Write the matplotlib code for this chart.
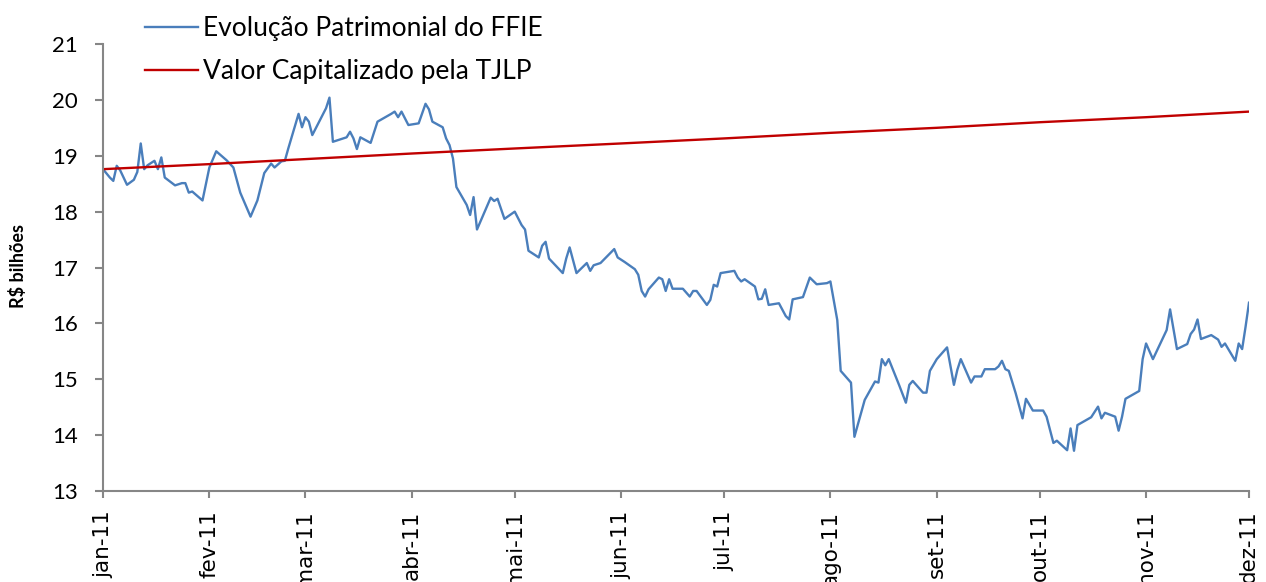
import matplotlib
matplotlib.use("Agg")
import matplotlib.pyplot as plt
import pandas as pd

# =========================
# DADOS
# =========================
datas_ffie = [
    "2011-01-01", "2011-01-03", "2011-01-04", "2011-01-05", "2011-01-06", "2011-01-08", "2011-01-10",
    "2011-01-11", "2011-01-12", "2011-01-13", "2011-01-14", "2011-01-16", "2011-01-17", "2011-01-18",
    "2011-01-19", "2011-01-22", "2011-01-24", "2011-01-25", "2011-01-26", "2011-01-27", "2011-01-30",
    "2011-02-01", "2011-02-03", "2011-02-06", "2011-02-08", "2011-02-10", "2011-02-13", "2011-02-15",
    "2011-02-17", "2011-02-19", "2011-02-20", "2011-02-22", "2011-02-23", "2011-02-24", "2011-02-27",
    "2011-02-28",
    "2011-03-01", "2011-03-02", "2011-03-03", "2011-03-07", "2011-03-08", "2011-03-09", "2011-03-13",
    "2011-03-14", "2011-03-15", "2011-03-16", "2011-03-17", "2011-03-20", "2011-03-22", "2011-03-26",
    "2011-03-27", "2011-03-28", "2011-03-29", "2011-03-31",
    "2011-04-03", "2011-04-05", "2011-04-06", "2011-04-07", "2011-04-10", "2011-04-11", "2011-04-12",
    "2011-04-13", "2011-04-14", "2011-04-17", "2011-04-18", "2011-04-19", "2011-04-20", "2011-04-24",
    "2011-04-25", "2011-04-26", "2011-04-28",
    "2011-05-01", "2011-05-03", "2011-05-04", "2011-05-05", "2011-05-08", "2011-05-09", "2011-05-10",
    "2011-05-11", "2011-05-15", "2011-05-16", "2011-05-17", "2011-05-19", "2011-05-22", "2011-05-23",
    "2011-05-24", "2011-05-26", "2011-05-30", "2011-05-31",
    "2011-06-02", "2011-06-05", "2011-06-06", "2011-06-07", "2011-06-08", "2011-06-09", "2011-06-12",
    "2011-06-13", "2011-06-14", "2011-06-15", "2011-06-16", "2011-06-19", "2011-06-21", "2011-06-22",
    "2011-06-23", "2011-06-26", "2011-06-27", "2011-06-28", "2011-06-29", "2011-06-30",
    "2011-07-04", "2011-07-05", "2011-07-06", "2011-07-07", "2011-07-10", "2011-07-11", "2011-07-12",
    "2011-07-13", "2011-07-14", "2011-07-17", "2011-07-19", "2011-07-20", "2011-07-21", "2011-07-24",
    "2011-07-26", "2011-07-28", "2011-07-31",
    "2011-08-01", "2011-08-03", "2011-08-04", "2011-08-07", "2011-08-08", "2011-08-11", "2011-08-14",
    "2011-08-15", "2011-08-16", "2011-08-17", "2011-08-18", "2011-08-21", "2011-08-23", "2011-08-24",
    "2011-08-25", "2011-08-28", "2011-08-29", "2011-08-30",
    "2011-09-01", "2011-09-04", "2011-09-06", "2011-09-07", "2011-09-08", "2011-09-11", "2011-09-12",
    "2011-09-14", "2011-09-15", "2011-09-18", "2011-09-19", "2011-09-20", "2011-09-21", "2011-09-22",
    "2011-09-24", "2011-09-26", "2011-09-27", "2011-09-29",
    "2011-10-02", "2011-10-03", "2011-10-05", "2011-10-06", "2011-10-09", "2011-10-10", "2011-10-11",
    "2011-10-12", "2011-10-16", "2011-10-18", "2011-10-19", "2011-10-20", "2011-10-23", "2011-10-24",
    "2011-10-25", "2011-10-26", "2011-10-30", "2011-10-31",
    "2011-11-01", "2011-11-03", "2011-11-07", "2011-11-08", "2011-11-10", "2011-11-13", "2011-11-14",
    "2011-11-15", "2011-11-16", "2011-11-17", "2011-11-20", "2011-11-22", "2011-11-23", "2011-11-24",
    "2011-11-27", "2011-11-28", "2011-11-29", "2011-11-30", "2011-12-01",
]

valores_ffie = [
    18.76, 18.61, 18.55, 18.82, 18.74, 18.48, 18.57,
    18.71, 19.22, 18.76, 18.83, 18.91, 18.76, 18.97,
    18.61, 18.47, 18.51, 18.51, 18.34, 18.36, 18.20,
    18.79, 19.08, 18.92, 18.79, 18.34, 17.91, 18.20,
    18.69, 18.86, 18.79, 18.90, 18.91, 19.13, 19.75,
    19.51,
    19.69, 19.61, 19.37, 19.85, 20.04, 19.25, 19.33,
    19.43, 19.31, 19.12, 19.33, 19.23, 19.61, 19.75,
    19.79, 19.69, 19.79, 19.55,
    19.58, 19.93, 19.83, 19.61, 19.51, 19.31, 19.19,
    18.95, 18.44, 18.12, 17.94, 18.26, 17.68, 18.25,
    18.19, 18.23, 17.87,
    18.00, 17.76, 17.68, 17.30, 17.18, 17.39, 17.46,
    17.16, 16.90, 17.16, 17.36, 16.90, 17.08, 16.94,
    17.04, 17.08, 17.33, 17.18,
    17.10, 16.97, 16.87, 16.58, 16.48, 16.61, 16.82,
    16.79, 16.58, 16.79, 16.62, 16.62, 16.48, 16.58,
    16.58, 16.33, 16.42, 16.69, 16.66, 16.90,
    16.94, 16.82, 16.75, 16.79, 16.66, 16.43, 16.44,
    16.61, 16.33, 16.36, 16.13, 16.07, 16.43, 16.47,
    16.82, 16.70, 16.72,
    16.75, 16.06, 15.15, 14.94, 13.97, 14.63, 14.96,
    14.94, 15.36, 15.25, 15.36, 14.90, 14.58, 14.90,
    14.97, 14.76, 14.76, 15.15,
    15.36, 15.57, 14.90, 15.17, 15.36, 14.94, 15.05,
    15.05, 15.18, 15.18, 15.23, 15.33, 15.18, 15.15,
    14.75, 14.30, 14.65, 14.44,
    14.44, 14.33, 13.86, 13.90, 13.73, 14.12, 13.72,
    14.18, 14.32, 14.51, 14.30, 14.40, 14.33, 14.08,
    14.33, 14.65, 14.79, 15.36,
    15.64, 15.36, 15.88, 16.25, 15.54, 15.63, 15.81,
    15.89, 16.07, 15.72, 15.79, 15.71, 15.58, 15.64,
    15.33, 15.64, 15.54, 15.94, 16.37,
]

datas_tjlp = ["2011-01-01", "2011-02-01", "2011-03-01", "2011-04-01", "2011-05-01", "2011-06-01",
              "2011-07-01", "2011-08-01", "2011-09-01", "2011-10-01", "2011-11-01", "2011-12-01"]
valores_tjlp = [18.76, 18.85, 18.94, 19.04, 19.13, 19.22, 19.31, 19.41, 19.50, 19.60, 19.69, 19.79]

meses = ["jan-11", "fev-11", "mar-11", "abr-11", "mai-11", "jun-11",
         "jul-11", "ago-11", "set-11", "out-11", "nov-11", "dez-11"]

# =========================
# PLOT
# =========================
plt.rcParams["font.family"] = ["Lato", "DejaVu Sans"]

cinza = "#868686"
fig = plt.figure(figsize=(12.66, 5.82), dpi=100)
ax = fig.add_axes([103 / 1266, 1 - 491 / 582, 1146 / 1266, 447 / 582])

ax.plot(pd.to_datetime(datas_ffie), valores_ffie, color="#4A7EBB", lw=1.7,
        label="Evolução Patrimonial do FFIE")
ax.plot(pd.to_datetime(datas_tjlp), valores_tjlp, color="#C00000", lw=1.7,
        label="Valor Capitalizado pela TJLP")

ax.set_xlim(pd.Timestamp("2011-01-01"), pd.Timestamp("2011-12-01"))
ax.set_ylim(13, 21)
ax.set_yticks(range(13, 22))
ax.set_xticks(pd.to_datetime(datas_tjlp))
ax.set_xticklabels(meses, rotation=90, family="DejaVu Sans", fontsize=15.5)

for s in ["top", "right"]:
    ax.spines[s].set_visible(False)
for s in ["left", "bottom"]:
    ax.spines[s].set_color(cinza)
    ax.spines[s].set_linewidth(1.5)

ax.tick_params(axis="y", direction="out", length=6, width=1.5, color=cinza,
               labelsize=16, pad=12)
ax.tick_params(axis="x", direction="out", length=5, width=1.5, color=cinza, pad=9)

fig.text(18 / 1266, 1 - 266 / 582, "R$ bilhões", rotation=90, fontsize=13,
         fontweight="bold", ha="center", va="center")

ax.legend(loc="upper left", bbox_to_anchor=(145 / 1266, 1 - 16 / 582),
          bbox_transform=fig.transFigure, frameon=False, fontsize=19,
          handlelength=2.0, handletextpad=0.2, labelspacing=0.68,
          borderpad=0, borderaxespad=0)

plt.savefig("out.png", dpi=100)
plt.close()
